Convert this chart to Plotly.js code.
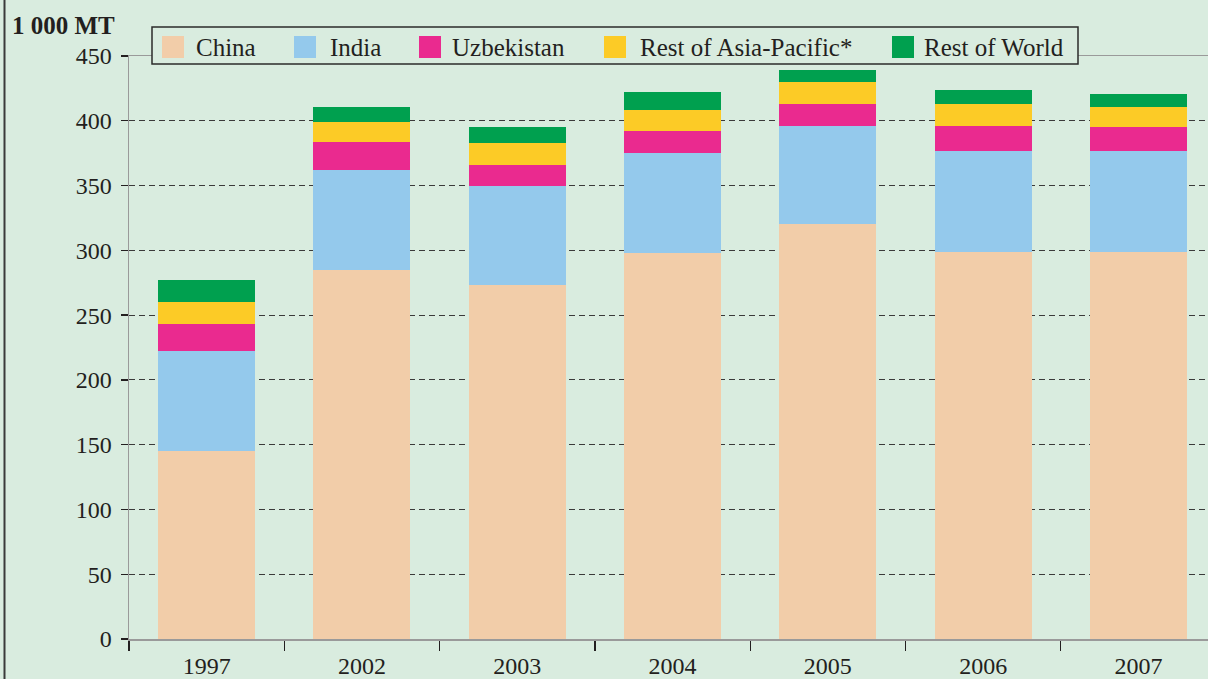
<!DOCTYPE html>
<html>
<head>
<meta charset="utf-8">
<script src="https://cdn.plot.ly/plotly-3.0.1.min.js"></script>
<style>html,body{margin:0;padding:0;background:#D9ECDF;}#chart{width:1208px;height:679px;}</style>
</head>
<body>
<div id="chart"></div>
<script>
const years = ['1997', '2002', '2003', '2004', '2005', '2006', '2007'];
const china = [145, 285, 273, 298, 320, 299, 299];
const india = [77, 77, 77, 77, 76, 78, 78];
const uzbekistan = [21, 22, 16, 17, 17, 19, 18];
const restAsiaPacific = [17, 15, 17, 16, 17, 17, 16];
const restWorld = [17, 12, 12, 14, 9, 11, 10];
const seriesNames = ['China', 'India', 'Uzbekistan', 'Rest of Asia-Pacific*', 'Rest of World'];
const yTicks = [0, 50, 100, 150, 200, 250, 300, 350, 400, 450];
const unitLabel = '1 000 MT';

const colors = ['#F2CDA9', '#94C9EC', '#EA2A8F', '#FCCB26', '#00A04F'];
const seriesValues = [china, india, uzbekistan, restAsiaPacific, restWorld];

const traces = seriesValues.map((vals, i) => ({
  type: 'bar',
  name: seriesNames[i],
  x: years,
  y: vals,
  width: 0.625,
  marker: {color: colors[i], line: {width: 0}},
  hoverinfo: 'x+y+name'
}));

const BG = '#D9ECDF';
const FONT = 'Liberation Serif, Times New Roman, serif';
const TXT = '#231F20';

// layout geometry (pixels) -> paper coordinates
const M = {l: 129, t: 56, b: 40};
const W = 1208, H = 679;
const PW = W - M.l, PH = H - M.t - M.b;
const px = v => (v - M.l) / PW;
const py = v => (H - M.b - v) / PH;

// custom legend placement (pixel positions)
const legendBox = {x0: 152, x1: 1078, y0: 27, y1: 64};
const swatchLeft = [162, 294, 419, 604, 892];
const swatchSize = 22;
const swatchTop = 36;
const labelLeft = [194, 328, 450, 638, 922];
const labelMid = 47;

const shapes = [
  {type: 'line', xref: 'paper', yref: 'paper',
   x0: px(4.5), x1: px(4.5), y0: -0.2, y1: 1.2,
   line: {color: '#3a3a3a', width: 2}},
  {type: 'rect', xref: 'paper', yref: 'paper',
   x0: px(legendBox.x0), x1: px(legendBox.x1), y0: py(legendBox.y1), y1: py(legendBox.y0),
   fillcolor: BG, line: {color: '#2b2b2b', width: 1.5}}
];
const annotations = [{
  text: '<b>' + unitLabel + '</b>',
  xref: 'paper', yref: 'paper',
  x: px(10), xanchor: 'left',
  y: py(25), yanchor: 'middle',
  showarrow: false,
  font: {family: FONT, size: 25, color: TXT}
}];
seriesNames.forEach((name, i) => {
  shapes.push({type: 'rect', xref: 'paper', yref: 'paper',
    x0: px(swatchLeft[i]), x1: px(swatchLeft[i] + swatchSize),
    y0: py(swatchTop + swatchSize), y1: py(swatchTop),
    fillcolor: colors[i], line: {width: 0}});
  annotations.push({text: name, xref: 'paper', yref: 'paper',
    x: px(labelLeft[i]), xanchor: 'left', y: py(labelMid), yanchor: 'middle',
    showarrow: false, font: {family: FONT, size: 25, color: TXT}});
});

const layout = {
  width: W,
  height: H,
  paper_bgcolor: BG,
  plot_bgcolor: BG,
  barmode: 'stack',
  margin: {l: M.l, r: 0, t: M.t, b: M.b, pad: 0},
  font: {family: FONT, size: 24, color: TXT},
  showlegend: false,
  xaxis: {
    type: 'category',
    range: [-0.5, 6.448],
    tickson: 'boundaries',
    ticks: 'outside',
    ticklen: 10,
    tickwidth: 1.3,
    tickcolor: TXT,
    ticklabelstandoff: 5,
    showline: true,
    linecolor: '#9a9a9a',
    linewidth: 1.5,
    mirror: true,
    showgrid: false,
    tickfont: {family: FONT, size: 24, color: TXT},
    fixedrange: true
  },
  yaxis: {
    range: [0, 450],
    tickvals: yTicks,
    ticks: 'outside',
    ticklen: 7,
    tickwidth: 1.3,
    tickcolor: TXT,
    ticklabelstandoff: 4,
    showline: true,
    linecolor: '#9a9a9a',
    linewidth: 1.5,
    showgrid: true,
    gridcolor: '#3a3a3a',
    gridwidth: 1.2,
    griddash: '6px,4px',
    zeroline: false,
    tickfont: {family: FONT, size: 24, color: TXT},
    fixedrange: true
  },
  annotations: annotations,
  shapes: shapes
};

Plotly.newPlot('chart', traces, layout, {displayModeBar: false, staticPlot: true});
</script>
</body>
</html>
